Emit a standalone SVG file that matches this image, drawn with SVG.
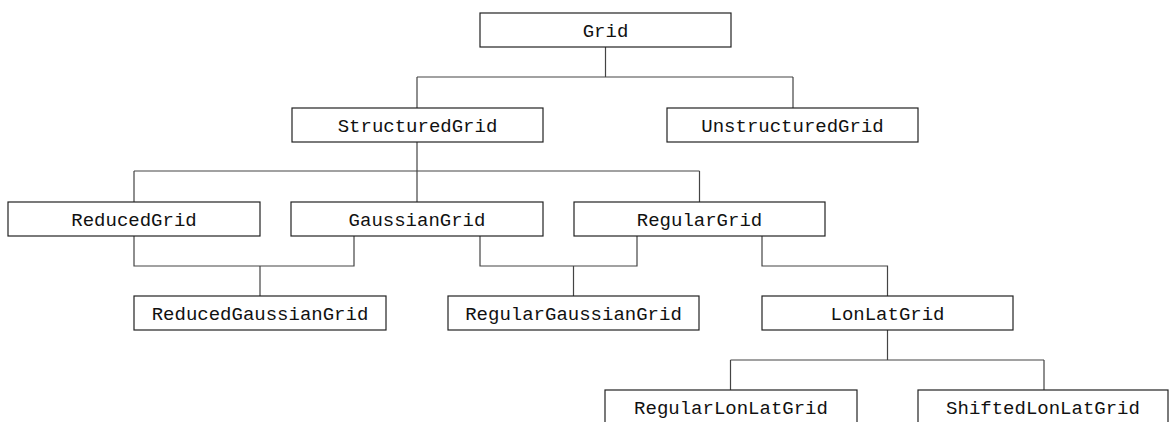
<svg xmlns="http://www.w3.org/2000/svg" width="1170" height="422" viewBox="0 0 1170 422">
<style>
.box{fill:#fff;stroke:#222;stroke-width:1.2}
.lbl{font-family:"Liberation Mono","DejaVu Sans Mono",monospace;font-size:19px;fill:#111;text-anchor:middle}
.con{fill:none;stroke:#444;stroke-width:1.2}
</style>
<rect width="1170" height="422" fill="#fff"/>
<g id="connectors">
<path class="con" d="M605.5,47V77M417,77H793M417,77V108M793,77V108"/>
<path class="con" d="M417,142V171M134,171H699.5M134,171V202M417,171V202M699.5,171V202"/>
<path class="con" d="M134,236V266H354V236M260,266V296"/>
<path class="con" d="M480,236V266H637V236M573.5,266V296"/>
<path class="con" d="M762,236V266H887.5V296"/>
<path class="con" d="M887.5,330V360M730.5,360H1044M730.5,360V390M1044,360V390"/>
</g>
<g id="Grid"><rect class="box" x="480" y="13" width="251" height="34"/><text class="lbl" x="605.5" y="37">Grid</text></g>
<g id="StructuredGrid"><rect class="box" x="292" y="108" width="251" height="34"/><text class="lbl" x="417.5" y="132">StructuredGrid</text></g>
<g id="UnstructuredGrid"><rect class="box" x="667" y="108" width="251" height="34"/><text class="lbl" x="792.5" y="132">UnstructuredGrid</text></g>
<g id="ReducedGrid"><rect class="box" x="8" y="202" width="252" height="34"/><text class="lbl" x="134" y="226">ReducedGrid</text></g>
<g id="GaussianGrid"><rect class="box" x="291" y="202" width="252" height="34"/><text class="lbl" x="417" y="226">GaussianGrid</text></g>
<g id="RegularGrid"><rect class="box" x="574" y="202" width="251" height="34"/><text class="lbl" x="699.5" y="226">RegularGrid</text></g>
<g id="ReducedGaussianGrid"><rect class="box" x="134" y="296" width="252" height="34"/><text class="lbl" x="260" y="320">ReducedGaussianGrid</text></g>
<g id="RegularGaussianGrid"><rect class="box" x="448" y="296" width="251" height="34"/><text class="lbl" x="573.5" y="320">RegularGaussianGrid</text></g>
<g id="LonLatGrid"><rect class="box" x="762" y="296" width="251" height="34"/><text class="lbl" x="887.5" y="320">LonLatGrid</text></g>
<g id="RegularLonLatGrid"><rect class="box" x="605" y="390" width="252" height="34"/><text class="lbl" x="731" y="414">RegularLonLatGrid</text></g>
<g id="ShiftedLonLatGrid"><rect class="box" x="918" y="390" width="250" height="34"/><text class="lbl" x="1043" y="414">ShiftedLonLatGrid</text></g>
</svg>
